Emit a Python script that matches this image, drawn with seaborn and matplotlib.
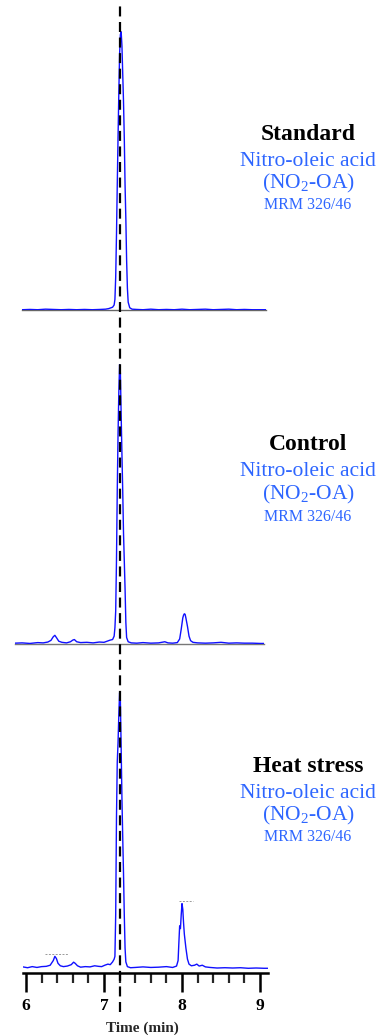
import pandas as pd
import matplotlib
matplotlib.use("Agg")
import matplotlib.pyplot as plt
from matplotlib.ticker import MultipleLocator, FixedLocator
import seaborn as sns

# --- chromatogram traces (relative intensity, % of main peak) ---
std_time = [5.95, 6.05, 6.15, 6.25, 6.35, 6.45, 6.55, 6.65, 6.75, 6.85,
            6.95, 7.02, 7.06, 7.09, 7.11, 7.13, 7.14, 7.15, 7.16, 7.17,
            7.18, 7.19, 7.20, 7.21, 7.22, 7.23, 7.24, 7.25, 7.26, 7.27,
            7.28, 7.29, 7.30, 7.31, 7.33, 7.36, 7.42, 7.5, 7.6, 7.7,
            7.8, 7.9, 8.0, 8.1, 8.2, 8.3, 8.4, 8.5, 8.6, 8.7,
            8.8, 8.9, 9.0, 9.08]
std_int = [0.3, 0.4, 0.3, 0.5, 0.4, 0.3, 0.4, 0.3, 0.4, 0.3,
           0.4, 0.5, 0.7, 1.0, 1.2, 2.0, 4.0, 12, 27, 45,
           62, 78, 92, 99, 100, 95, 85, 75, 62, 45,
           33, 18, 8, 3, 1.0, 0.5, 0.4, 0.3, 0.5, 0.3,
           0.4, 0.3, 0.5, 0.3, 0.4, 0.5, 0.3, 0.4, 0.5, 0.3,
           0.4, 0.3, 0.3, 0.3]

ctl_time = [5.86, 5.95, 6.05, 6.15, 6.22, 6.28, 6.32, 6.35, 6.37, 6.39,
            6.42, 6.46, 6.52, 6.57, 6.60, 6.62, 6.65, 6.70, 6.78, 6.86,
            6.94, 7.00, 7.04, 7.08, 7.11, 7.13, 7.14, 7.15, 7.16, 7.17,
            7.18, 7.19, 7.20, 7.21, 7.22, 7.23, 7.24, 7.25, 7.26, 7.27,
            7.28, 7.29, 7.31, 7.35, 7.42, 7.5, 7.6, 7.7, 7.78, 7.82,
            7.88, 7.94, 7.97, 7.99, 8.01, 8.02, 8.03, 8.04, 8.05, 8.07,
            8.09, 8.11, 8.14, 8.2, 8.3, 8.4, 8.5, 8.6, 8.7, 8.8,
            8.9, 9.0, 9.05]
ctl_int = [0.5, 0.6, 0.4, 0.7, 0.6, 0.9, 1.5, 2.8, 3.3, 2.5,
           1.2, 0.8, 0.6, 1.0, 1.6, 1.8, 1.0, 0.7, 0.8, 0.6,
           0.9, 0.8, 1.2, 1.6, 1.8, 3.0, 6.0, 12, 30, 55,
           75, 90, 100, 97, 82, 68, 55, 40, 30, 20,
           8, 2.5, 1.0, 0.6, 0.5, 0.7, 0.5, 0.6, 1.0, 0.6,
           0.5, 0.7, 2.0, 5.5, 9.5, 10.5, 11, 10.8, 9.5, 6.5,
           3.0, 1.4, 0.8, 0.6, 0.5, 0.6, 0.8, 0.5, 0.6, 0.5,
           0.5, 0.4, 0.4]

heat_time = [5.96, 6.02, 6.08, 6.14, 6.2, 6.26, 6.31, 6.35, 6.37, 6.39,
             6.41, 6.44, 6.48, 6.53, 6.58, 6.61, 6.63, 6.66, 6.70, 6.76,
             6.82, 6.88, 6.93, 6.97, 7.01, 7.05, 7.08, 7.11, 7.13, 7.14,
             7.15, 7.16, 7.17, 7.18, 7.19, 7.20, 7.21, 7.22, 7.23, 7.24,
             7.25, 7.26, 7.27, 7.28, 7.30, 7.34, 7.4, 7.5, 7.6, 7.7,
             7.8, 7.88, 7.93, 7.95, 7.96, 7.97, 7.98, 7.99, 8.00, 8.01,
             8.02, 8.03, 8.05, 8.07, 8.09, 8.12, 8.16, 8.19, 8.22, 8.26,
             8.30, 8.36, 8.45, 8.55, 8.65, 8.75, 8.85, 8.95, 9.05, 9.10]
heat_int = [1.2, 0.9, 1.3, 1.0, 1.3, 1.4, 1.8, 3.5, 5.0, 4.2,
            2.5, 1.6, 1.3, 1.5, 2.0, 2.9, 2.5, 1.6, 1.1, 1.3,
            1.2, 1.6, 1.4, 1.3, 1.8, 2.2, 2.0, 3.0, 4.0, 5.0,
            20, 55, 75, 82, 92, 100, 97, 80, 62, 48,
            35, 20, 8, 3.0, 1.3, 0.9, 1.0, 1.2, 1.0, 1.1,
            1.3, 1.0, 1.5, 3.5, 10, 16, 15, 20, 24, 22,
            17, 13, 8, 4, 2.2, 1.6, 1.8, 2.2, 1.5, 1.8,
            1.2, 1.0, 0.8, 0.9, 0.8, 0.9, 0.7, 0.8, 0.7, 0.7]

# integration markers above the minor peaks in the heat-stress trace
heat_mark_start = [6.24, 7.96]
heat_mark_end = [6.54, 8.14]
heat_mark_level = [6, 25]

retention_time = 7.2
panel_titles = ["Standard", "Control", "Heat stress"]
analyte_name = "Nitro-oleic acid"
analyte_abbr = "(NO$\\mathregular{_2}$-OA)"
transition = "MRM 326/46"
tick_values = [6, 7, 8, 9]

sns.set_style("white")
plt.rcParams["font.family"] = ["Liberation Serif", "DejaVu Serif"]
plt.rcParams["mathtext.fontset"] = "custom"
plt.rcParams["mathtext.rm"] = "Liberation Serif"

W, H = 379, 1035
fig = plt.figure(figsize=(W / 100, H / 100), dpi=100)

line_blue = "#1010ff"
text_blue = "#2e66ff"


def px_to_t(px):
    return 6 + (px - 26) / 78


def make_axes(left, right, top, bottom):
    return fig.add_axes([left / W, 1 - bottom / H, (right - left) / W, (bottom - top) / H])


def draw_trace(ax, t, y, left, right, ylo):
    df = pd.DataFrame({"time": t, "intensity": y})
    sns.lineplot(data=df, x="time", y="intensity", ax=ax, color=line_blue,
                 lw=1.0, estimator=None, sort=False, zorder=3)
    ax.set_xlim(px_to_t(left), px_to_t(right))
    ax.set_ylim(ylo, 101)
    ax.set_xlabel("")
    ax.set_ylabel("")
    ax.set_yticks([])
    ax.patch.set_alpha(0)
    for s in ["top", "right", "left"]:
        ax.spines[s].set_visible(False)


ax1 = make_axes(22, 266, 29, 310)
draw_trace(ax1, std_time, std_int, 22, 266, 0.2)
ax1.set_xticks([])
ax1.spines["bottom"].set_color("#666666")
ax1.spines["bottom"].set_linewidth(1.0)

ax2 = make_axes(15, 264, 362, 644)
draw_trace(ax2, ctl_time, ctl_int, 15, 264, 0.2)
ax2.set_xticks([])
ax2.spines["bottom"].set_color("#777777")
ax2.spines["bottom"].set_linewidth(1.0)

ax3 = make_axes(23, 268, 690, 973)
draw_trace(ax3, heat_time, heat_int, 23, 268, -1)
ax3.hlines(heat_mark_level, heat_mark_start, heat_mark_end, colors="#999999",
           linestyles=(0, (2, 1.5)), lw=0.7)
ax3.spines["bottom"].set_color("black")
ax3.spines["bottom"].set_linewidth(1.8)
ax3.xaxis.set_major_locator(FixedLocator(tick_values))
ax3.xaxis.set_minor_locator(MultipleLocator(0.2))
ax3.tick_params(axis="x", which="major", direction="out", length=14, width=1.8,
                bottom=True, pad=4, labelsize=12.5, colors="black")
ax3.tick_params(axis="x", which="minor", direction="out", length=7, width=1.6,
                bottom=True)
for lab in ax3.get_xticklabels():
    lab.set_fontweight("bold")
ax3.set_xlabel("Time (min)", fontsize=11, fontweight="bold")
ax3.xaxis.set_label_coords((142 - 23) / 245, (973 - 1028) / 283)
ax3.xaxis.label.set_va("center")

# dashed retention-time marker running through all panels
ov = make_axes(22, 268, 5, 1012)
ov.set_xlim(px_to_t(22), px_to_t(268))
ov.axvline(retention_time, 0, 1, color="black", lw=1.6, ls=(0, (4.5, 2.5)))
ov.axis("off")
ov.patch.set_alpha(0)

label_rows = [(135, 162, 183, 205), (445, 472, 494, 517), (767, 793, 815, 837)]
cx = 308 / W
for title, (y0, y1, y2, y3) in zip(panel_titles, label_rows):
    fig.text(cx, 1 - y0 / H, title, ha="center", va="center", fontsize=17,
             fontweight="bold", color="black")
    fig.text(cx, 1 - y1 / H, analyte_name, ha="center", va="center",
             fontsize=15.5, color=text_blue)
    fig.text(cx, 1 - y2 / H, analyte_abbr, ha="center", va="center",
             fontsize=15.5, color=text_blue)
    fig.text(cx, 1 - y3 / H, transition, ha="center", va="center",
             fontsize=11.5, color=text_blue)

fig.savefig("out.png", dpi=100)
